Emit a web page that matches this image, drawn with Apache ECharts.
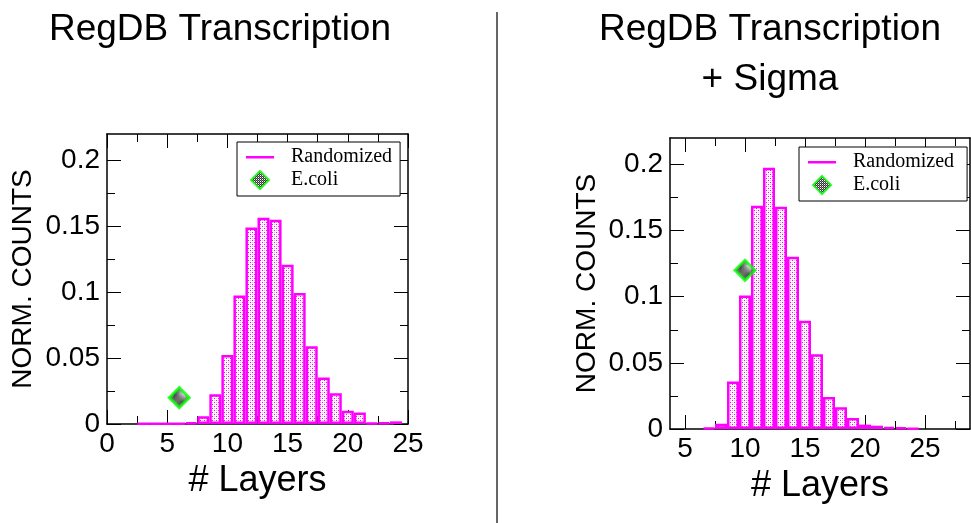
<!DOCTYPE html>
<html><head><meta charset="utf-8">
<script src="https://cdn.jsdelivr.net/npm/echarts@6/dist/echarts.min.js"></script>
<style>html,body{margin:0;padding:0;background:#fff}#c{width:971px;height:523px}</style>
</head><body><div id="c"></div>
<script>
// ---- data ----
const leftTitle = 'RegDB Transcription';
const rightTitle = 'RegDB Transcription\n+ Sigma';
const leftLayers = [3,4,5,6,7,8,9,10,11,12,13,14,15,16,17,18,19,20,21,22,23,24];
const leftCounts = [0.0003,0.0003,0.0003,0.0003,0.0012,0.0058,0.0226,0.0523,0.0974,0.149,0.1565,0.155,0.1208,0.0994,0.059,0.0352,0.0234,0.0101,0.0088,0.0008,0.001,0.002];
const leftEcoli = [[6, 0.02]];
const rightLayers = [7,8,9,10,11,12,13,14,15,16,17,18,19,20,21,22,23,24];
const rightCounts = [0.0008,0.004,0.036,0.1009,0.1688,0.1975,0.168,0.1303,0.0818,0.0566,0.0242,0.0164,0.0083,0.0033,0.0025,0.0015,0.0013,0.0005];
const rightEcoli = [[10, 0.12]];
const leftXMajor = [0,5,10,15,20,25];
const leftXMinor = [2.5,7.5,12.5,17.5,22.5];
const rightXMajor = [5,10,15,20,25];
const rightXMinor = [7.5,12.5,17.5,22.5,27.5];
const yMajor = [0,0.05,0.1,0.15,0.2];
const yMinor = [0.025,0.075,0.125,0.175];
const leftXRange = [0, 25];
const rightXRange = [3.75, 28.75];
const yRange = [0, 0.22];

// ---- patterns ----
function pattern(draw, w, h) {
  const c = document.createElement('canvas'); c.width = w; c.height = h;
  const g = c.getContext('2d'); draw(g); return c;
}
const barFill = pattern(g => {
  g.fillStyle = '#fff'; g.fillRect(0,0,4,4);
  g.fillStyle = '#ff00ff'; g.fillRect(0,0,1,1); g.fillRect(2,2,1,1);
  g.fillStyle = '#f8b0f8'; g.fillRect(2,0,1,1); g.fillRect(0,2,1,1);
}, 4, 4);
const dotFill = pattern(g => {
  g.fillStyle = '#fff'; g.fillRect(0,0,2,2);
  g.fillStyle = '#000'; g.fillRect(0,0,1,1); g.fillRect(1,1,1,1);
  g.fillStyle = '#666'; g.fillRect(1,0,1,1);
}, 2, 2);

const SANS = 'Liberation Sans';
const SERIF = 'Liberation Serif';
const MAG = '#ff00ff';

function axesFor(gi, kind, range, major, minor, labelVals, name, nameGap) {
  const isX = kind === 'x';
  const base = { gridIndex: gi, type: 'value', min: range[0], max: range[1], splitLine: { show: false } };
  const pos = isX ? ['bottom', 'top'] : ['left', 'right'];
  const out = [];
  pos.forEach((p, k) => {
    out.push(Object.assign({}, base, {
      position: p,
      axisLine: { show: true, onZero: false, lineStyle: { color: '#000', width: 1.5 } },
      axisTick: { show: true, inside: true, length: 14, customValues: major, lineStyle: { color: '#000', width: 1 } },
      axisLabel: k === 0 ? { show: true, customValues: labelVals, margin: isX ? 6 : 7, color: '#000', fontFamily: SANS, fontSize: 28 } : { show: false },
      name: k === 0 ? name : '',
      nameLocation: 'middle', nameGap: nameGap,
      nameTextStyle: { fontFamily: SANS, fontSize: isX ? 36 : 28, color: '#000' }
    }));
    out.push(Object.assign({}, base, {
      position: p,
      axisLine: { show: false, onZero: false },
      axisTick: { show: true, inside: true, length: 8, customValues: minor, lineStyle: { color: '#000', width: 1 } },
      axisLabel: { show: false }
    }));
  });
  return out;
}

const xAxes = [].concat(
  axesFor(0, 'x', leftXRange, leftXMajor, leftXMinor, leftXMajor, '# Layers', 35),
  axesFor(1, 'x', rightXRange, rightXMajor, rightXMinor, rightXMajor, '# Layers', 34)
);
const yAxes = [].concat(
  axesFor(0, 'y', yRange, yMajor, yMinor, yMajor, 'NORM. COUNTS', 70),
  axesFor(1, 'y', yRange, yMajor, yMinor, yMajor, 'NORM. COUNTS', 69)
);

function pairs(xs, ys) { return xs.map((x, i) => [x, ys[i]]); }

const barStyle = { color: { image: barFill, repeat: 'repeat' }, borderColor: MAG, borderWidth: 2.5 };
const ecoliStyle = { color: { image: dotFill, repeat: 'repeat' }, borderColor: '#00ff00', borderWidth: 3 };

function legendFor(gi, left, top) {
  return {
    show: true, orient: 'vertical', left: left, top: top,
    backgroundColor: '#fff', borderColor: '#000', borderWidth: 1, borderRadius: 0,
    padding: [5, 8, 5, 8], itemGap: 2, itemWidth: 40, itemHeight: 20,
    textStyle: { fontFamily: SERIF, fontSize: 20, color: '#000' },
    selectedMode: false,
    data: [
      { name: 'Randomized' + (gi ? ' ' : ''), icon: 'path://M0,0M0,9L28,9L28,11.5L0,11.5ZM40,20', itemStyle: { color: MAG, borderWidth: 0 } },
      { name: 'E.coli' + (gi ? ' ' : ''), icon: 'path://M0,0M14,1L23,10L14,19L5,10ZM40,20' }
    ]
  };
}

const titleStyle = { fontFamily: SANS, fontSize: 37, fontWeight: 'normal', color: '#000', lineHeight: 50, align: 'center' };
const option = {
  animation: false,
  backgroundColor: '#fff',
  title: [
    { text: leftTitle, left: 220, top: 5, padding: 0, textAlign: 'center', textStyle: titleStyle },
    { text: rightTitle, left: 770, top: 5, padding: 0, textAlign: 'center', textStyle: titleStyle }
  ],
  grid: [
    { left: 107, top: 134, width: 301, height: 290 },
    { left: 670, top: 138, width: 300, height: 291 }
  ],
  xAxis: xAxes,
  yAxis: yAxes,
  legend: [legendFor(0, 237, 142), legendFor(1, 799, 147)],
  graphic: [
    { type: 'line', shape: { x1: 497, y1: 12, x2: 497, y2: 523 }, style: { stroke: '#333', lineWidth: 1.5 } }
  ],
  series: [
    { type: 'bar', name: 'Randomized', xAxisIndex: 0, yAxisIndex: 0, data: pairs(leftLayers, leftCounts), barWidth: '100%', itemStyle: barStyle, z: 2 },
    { type: 'scatter', name: 'E.coli', xAxisIndex: 0, yAxisIndex: 0, data: leftEcoli, symbol: 'diamond', symbolSize: 20, itemStyle: ecoliStyle, z: 3 },
    { type: 'bar', name: 'Randomized ', xAxisIndex: 4, yAxisIndex: 4, data: pairs(rightLayers, rightCounts), barWidth: '100%', itemStyle: barStyle, z: 2 },
    { type: 'scatter', name: 'E.coli ', xAxisIndex: 4, yAxisIndex: 4, data: rightEcoli, symbol: 'diamond', symbolSize: 20, itemStyle: ecoliStyle, z: 3 }
  ]
};
const chart = echarts.init(document.getElementById('c'), null, { renderer: 'canvas' });
chart.setOption(option);
</script>
</body></html>
